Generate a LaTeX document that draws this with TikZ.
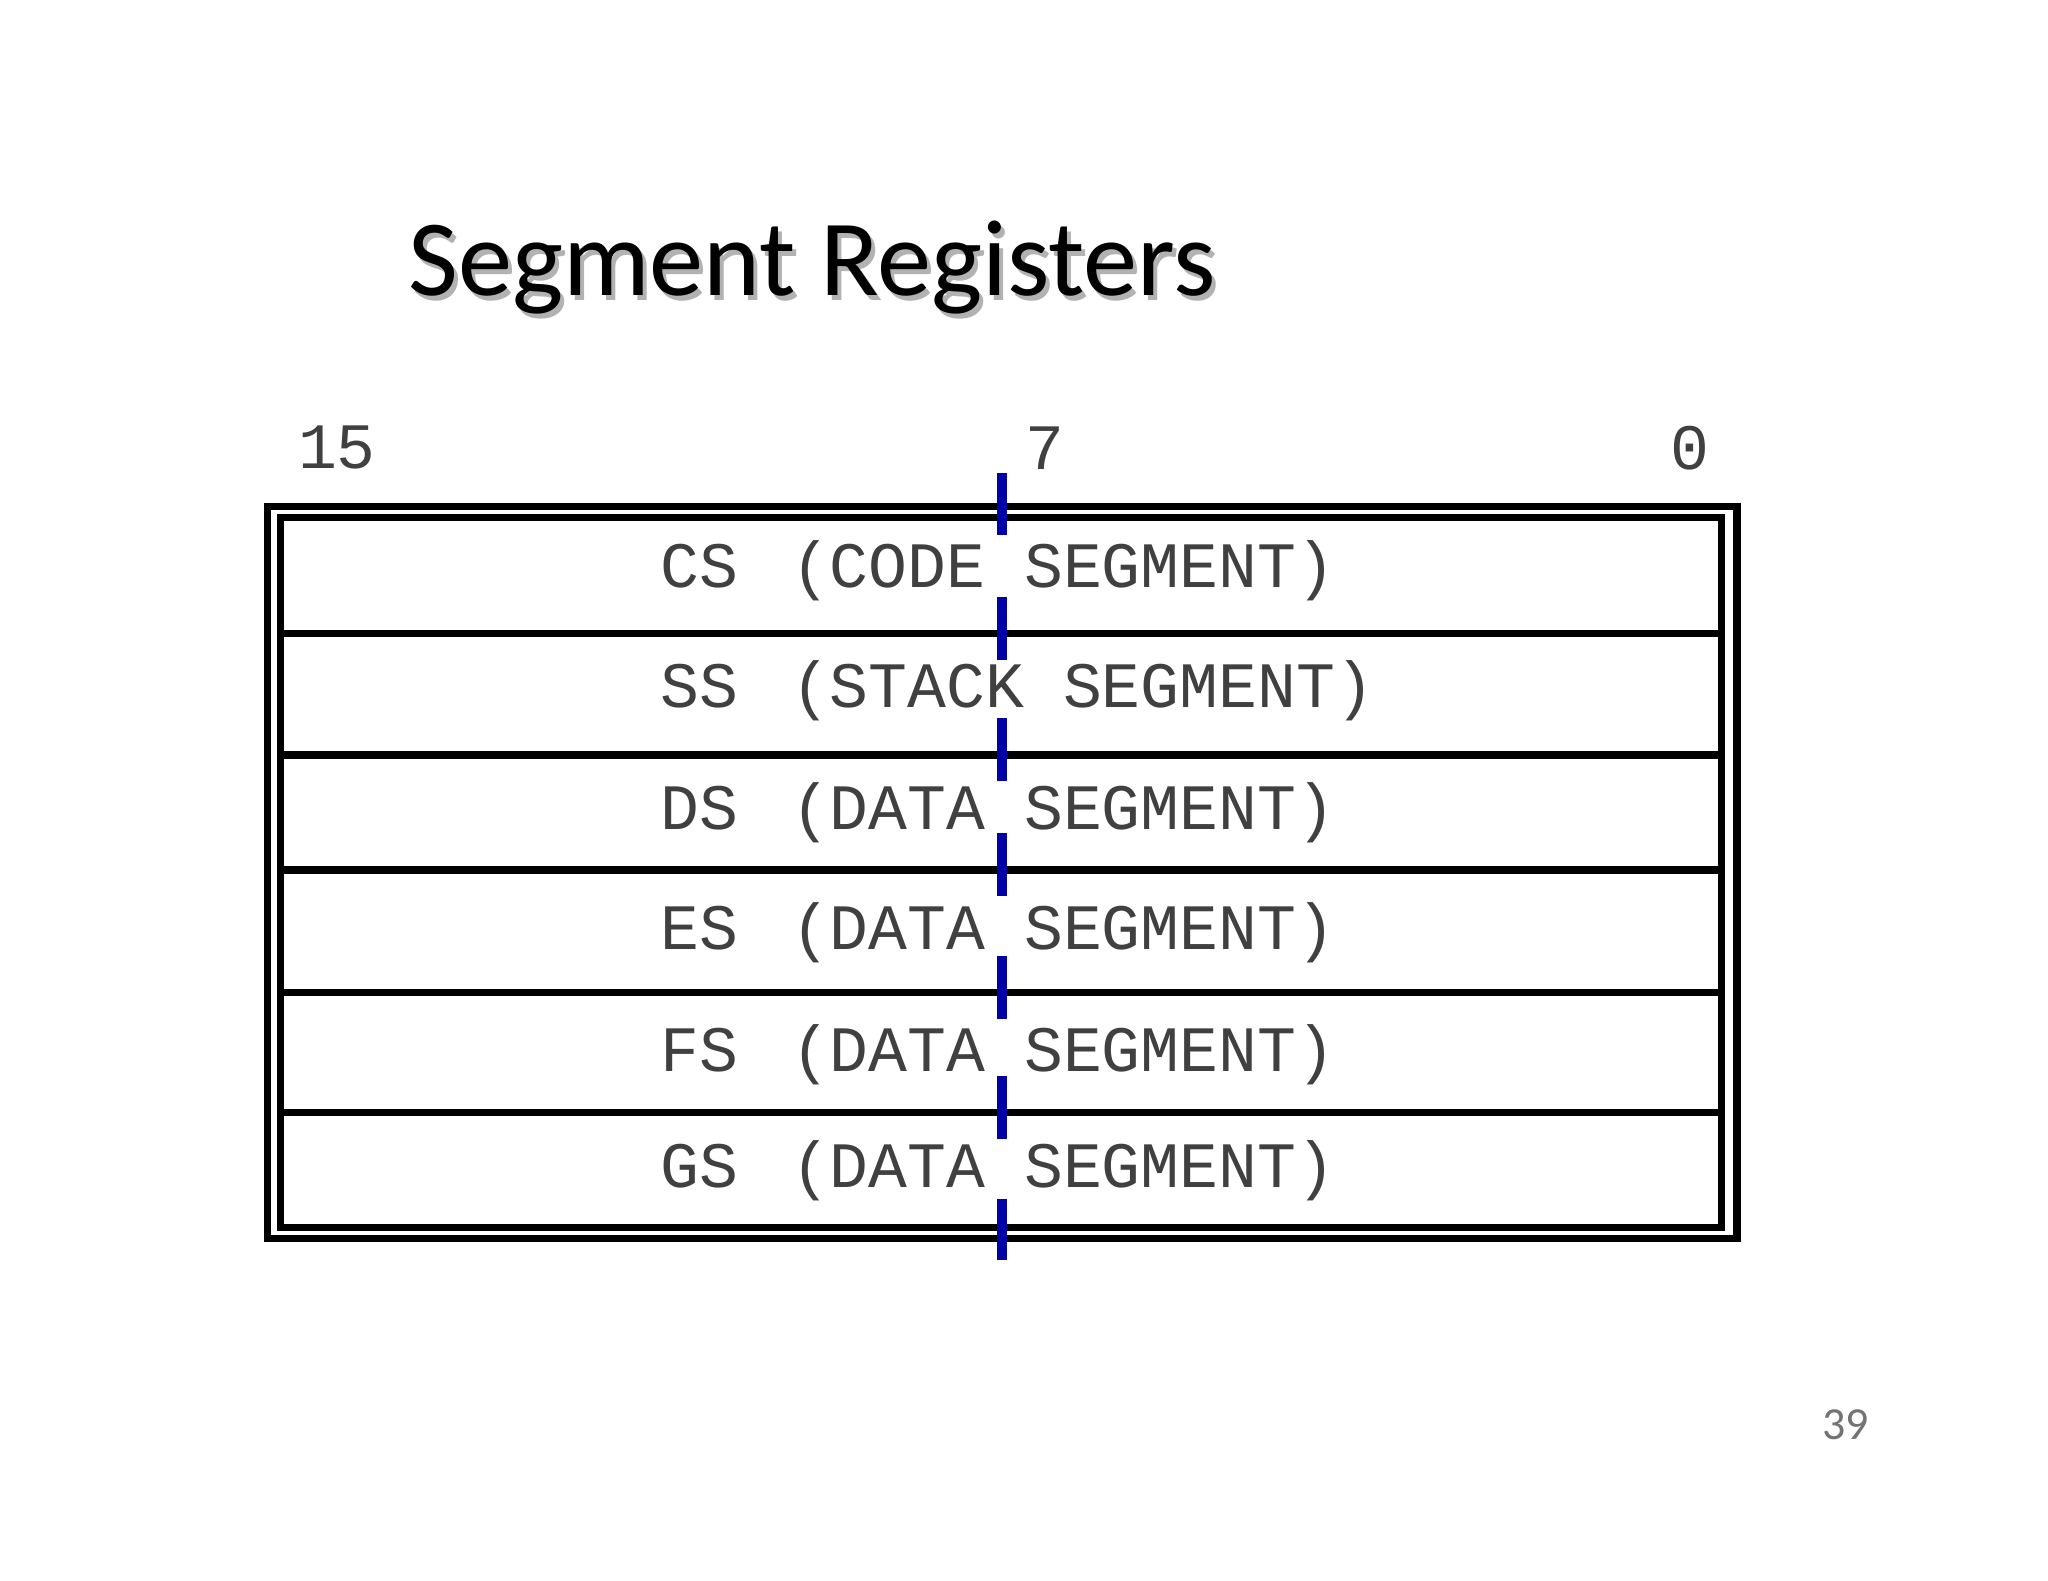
\documentclass[tikz,border=0pt]{standalone}
\usepackage{fontspec}
\setmainfont{Carlito}
\newfontfamily\monof{Liberation Mono}
\begin{document}
\begin{tikzpicture}[x=0.01cm,y=-0.01cm,
  mono/.style={font=\monof\fontsize{14.1pt}{16pt}\selectfont,text=black!75,inner sep=0pt},
  rowtxt/.style={mono,anchor=base west},
  rule/.style={line width=1.6pt,black},
  tick/.style={line width=2.2pt,blue!65!black}]
\useasboundingbox (0,0) rectangle (1568,1210);
\node[text=black!30,font=\fontsize{23.6pt}{28pt}\selectfont,anchor=west,inner sep=0pt] at (315,209) {Segment Registers};
\node (title)[text=black,font=\fontsize{23.6pt}{28pt}\selectfont,anchor=west,inner sep=0pt] at (312,205) {Segment Registers};
\node (b15)[mono] at (258,343) {15};
\node (b7)[mono] at (800,343) {7};
\node (b0)[mono] at (1294,343) {0};
\draw[rule] (205,388) rectangle (1330,948);
\draw[rule] (215,396) rectangle (1318,940);
\foreach \y in {485,578,666,760,852} \draw[rule] (215,\y) -- (1318,\y);
\foreach \y/\a/\t in {436/CS/{(CODE SEGMENT)},528/SS/{(STACK SEGMENT)},621/DS/{(DATA SEGMENT)},713/ES/{(DATA SEGMENT)},806/FS/{(DATA SEGMENT)},895/GS/{(DATA SEGMENT)}}
  {\node[rowtxt] at (505,\y+14) {\a};
   \node[rowtxt] at (605,\y+14) {\t};}
\draw[tick] (767,362) -- (767,410);
\foreach \y in {485,578,666,760,852} \draw[tick] (767,\y-28) -- (767,\y+20);
\draw[tick] (767,918) -- (767,965);
\node (pg)[text=black!55,font=\fontsize{10pt}{12pt}\selectfont] at (1413,1091) {39};
\end{tikzpicture}
\end{document}
